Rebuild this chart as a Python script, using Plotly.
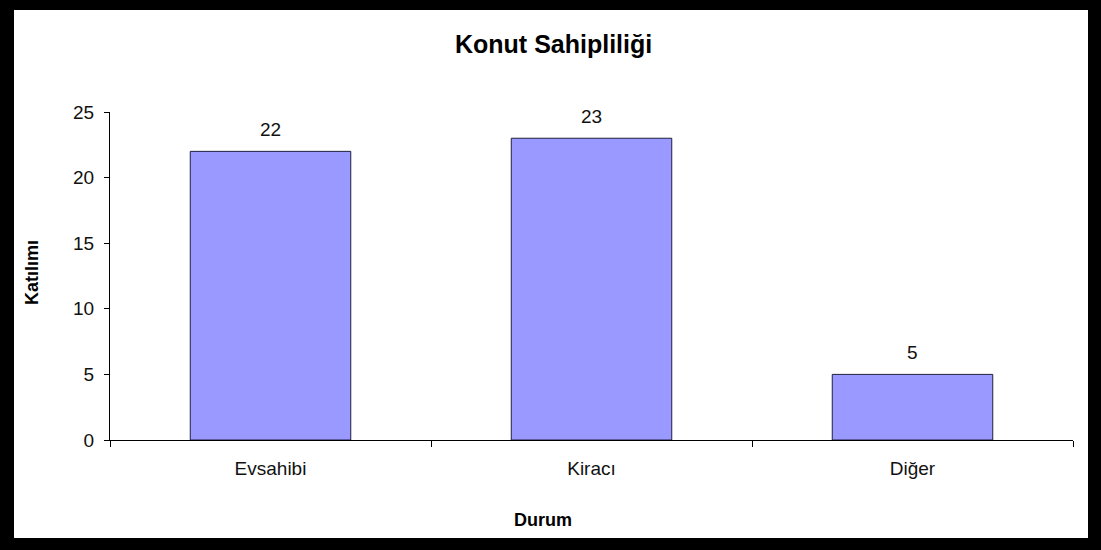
import plotly.graph_objects as go

categories = ["Evsahibi", "Kiracı", "Diğer"]
values = [22, 23, 5]
y_ticks = [0, 5, 10, 15, 20, 25]

W, H = 1101, 550
L, R, T, B = 110, 28, 112, 110
pw, ph = W - L - R, H - T - B

def px_x(x):
    return (x - L) / pw

def px_y(y):
    return (H - B - y) / ph

FONT = "Arial, Liberation Sans, sans-serif"

fig = go.Figure()
fig.add_trace(go.Bar(
    x=categories, y=values, width=0.5,
    marker=dict(color="#9999FF", line=dict(color="#1f1f3f", width=1)),
    hoverinfo="x+y",
))

for c, v in zip(categories, values):
    fig.add_annotation(x=c, y=v, text=str(v), showarrow=False, yanchor="bottom",
                       xanchor="center", yshift=9,
                       font=dict(family=FONT, size=19, color="#111"))

# black frame
frames = [
    (0, 0, 14, H), (W - 13, 0, W, H), (0, 0, W, 10), (0, H - 12, W, H)
]
for x0, y0, x1, y1 in frames:
    fig.add_shape(type="rect", xref="paper", yref="paper",
                  x0=px_x(x0), x1=px_x(x1), y0=px_y(y0), y1=px_y(y1),
                  fillcolor="black", line=dict(width=0), layer="above")

def label(x, y, text, size, angle=0):
    fig.add_annotation(xref="paper", yref="paper", x=px_x(x), y=px_y(y),
                       xanchor="center", yanchor="middle",
                       text=text, showarrow=False, textangle=angle,
                       font=dict(family=FONT, size=size, color="black"))

label(553, 44, "<b>Konut Sahipliliği</b>", 25)
label(543, 520, "<b>Durum</b>", 18)
label(32, 273, "<b>Katılımı</b>", 18, -90)

fig.update_layout(
    width=W, height=H,
    margin=dict(l=L, r=R, t=T, b=B),
    paper_bgcolor="white", plot_bgcolor="white",
    showlegend=False,
    xaxis=dict(showline=True, linecolor="black", linewidth=1,
               ticks="outside", tickson="boundaries", ticklen=6, tickcolor="black",
               ticklabelstandoff=11,
               tickfont=dict(family=FONT, size=19, color="#111"),
               showgrid=False, zeroline=False),
    yaxis=dict(range=[0, 25], tickvals=y_ticks, showline=True, linecolor="black",
               linewidth=1, ticks="outside", ticklen=5, tickcolor="black",
               ticklabelstandoff=6,
               tickfont=dict(family=FONT, size=19, color="#111"),
               showgrid=False, zeroline=False),
)

fig.write_html("out.html", post_script="document.body.style.margin='0';",
               config={"displayModeBar": False})
